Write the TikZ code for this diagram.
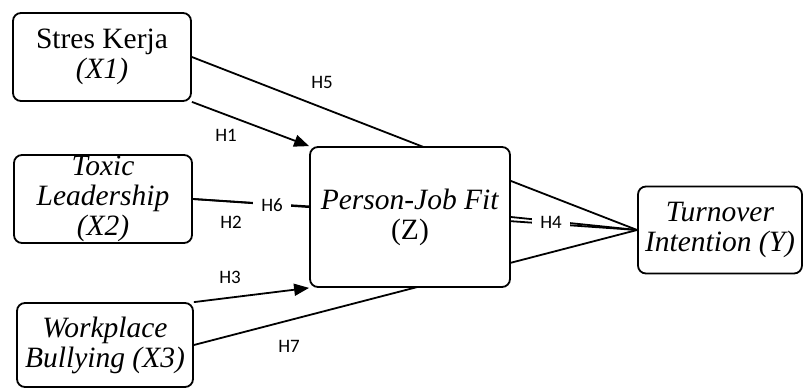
\documentclass[tikz,border=0pt]{standalone}
\usepackage{fontspec}
\setmainfont{Liberation Serif}
\newfontfamily\hypfont{Carlito}
\usepackage{tikz}
\usetikzlibrary{arrows.meta, backgrounds, calc}

\tikzset{
  varbox/.style={draw, line width=1.8pt, rounded corners=8pt, fill=white, align=center,
    inner sep=0pt, font=\fontsize{29.5}{30}\selectfont},
  hyplabel/.style={font=\hypfont\fontsize{19}{22}\selectfont, inner sep=2pt},
  hypcut/.style={hyplabel, fill=white, inner xsep=8pt, inner ysep=3pt},
  link/.style={line width=1.8pt},
  linkarrow/.style={link, -{Triangle[length=15pt,width=12pt]}}
}

\begin{document}
\begin{tikzpicture}[x=1pt,y=-1pt]
        \useasboundingbox (0,0) rectangle (804,388);
        % variables
        \node[varbox, minimum width=178pt, minimum height=88pt] (x1) at (102,57) {Stres Kerja\\\textit{(X1)}};
        \node[varbox, minimum width=178pt, minimum height=88pt] (x2) at (103,199) {\textit{Toxic}\\\textit{Leadership}\\\textit{(X2)}};
        \node[varbox, minimum width=176pt, minimum height=84pt] (x3) at (105,345) {\textit{Workplace}\\\textit{Bullying (X3)}};
        \node[varbox, minimum width=200pt, minimum height=140pt] (z) at (410,217) {\textit{Person-Job Fit}\\(Z)};
        \node[varbox, minimum width=164pt, minimum height=87pt] (y) at (720,230) {\textit{Turnover}\\\textit{Intention (Y)}};
        % paths
        \begin{scope}[on background layer]
          \draw[linkarrow] (x1.south east) -- (z.north west);
          \draw[link] (x1.east) -- (y.west);
          \draw[link] (x2.east) -- (z.174);
          \draw[link] (x2.east) -- (y.west);
          \draw[linkarrow] (x3.north east) -- (z.south west);
          \draw[link] (x3.east) -- (y.west);
          \draw[link] (z.east) -- (y.west);
        \end{scope}
        % hypotheses
        \node[hyplabel] (h5) at (322,82) {H5};
        \node[hyplabel] (h1) at (226,135) {H1};
        \node[hypcut] (h6) at (272,205) {H6};
        \node[hyplabel] (h2) at (231,222) {H2};
        \node[hyplabel] (h3) at (230,277) {H3};
        \node[hyplabel] (h7) at (289,346) {H7};
        \node[hypcut] (h4) at (551,222) {H4};
\end{tikzpicture}
\end{document}
